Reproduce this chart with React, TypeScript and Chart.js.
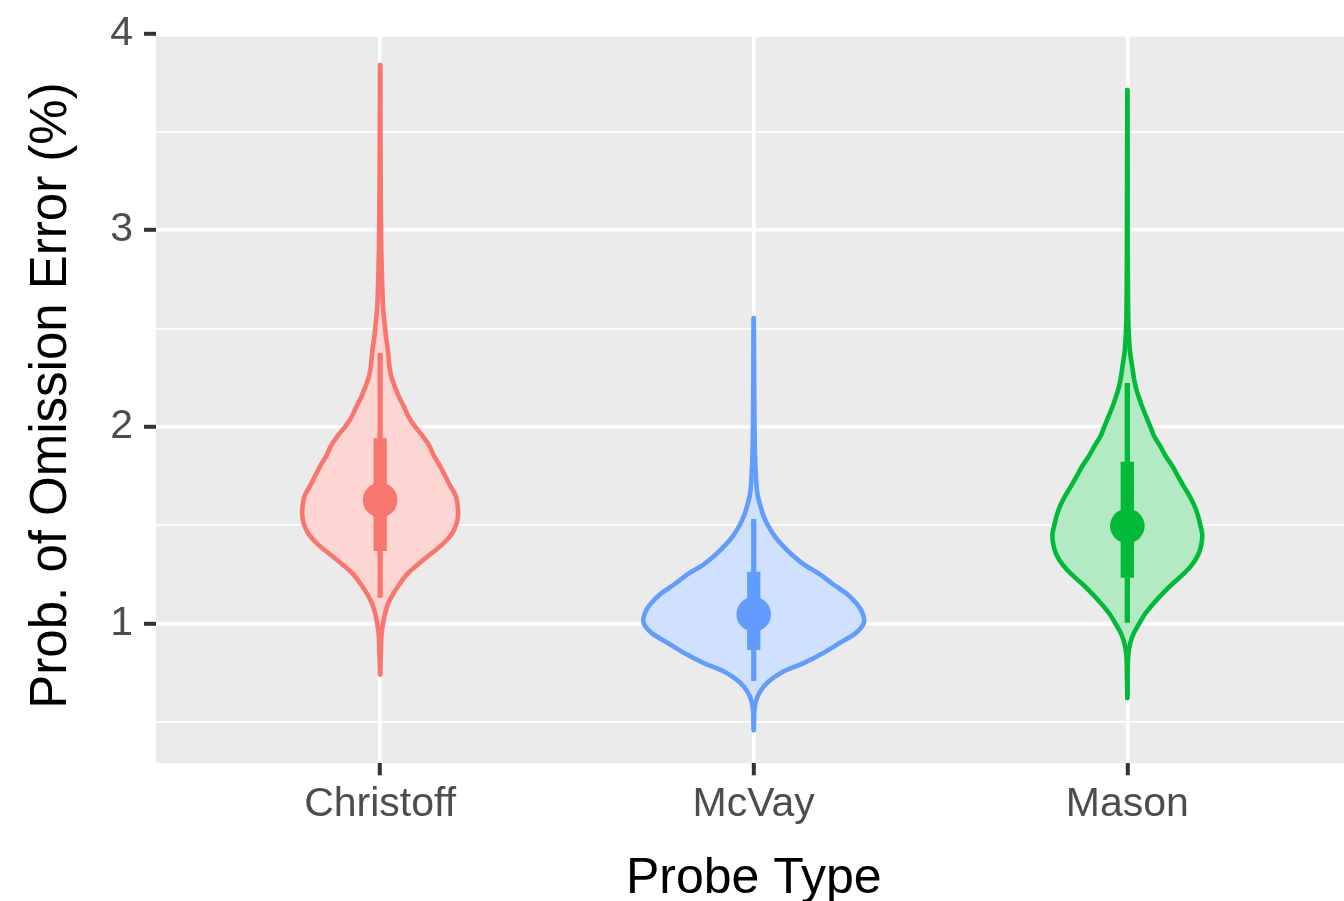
import React, { useEffect, useRef } from "react";
import { Chart, registerables } from "chart.js";

Chart.register(...registerables);

// ---- data -------------------------------------------------------------
const categories = ["Christoff", "McVay", "Mason"];
const lineColors = ["#F8766D", "#619CFF", "#00BA38"];
const fillColors = ["#FDD6D3", "#D0E1FF", "#B3EAC3"];

// violin outlines: y value and half-width (in category units)
const christoffY = [0.74, 0.8, 0.85, 0.9, 0.95, 1.0, 1.05, 1.1, 1.15, 1.2, 1.25, 1.3, 1.35, 1.4, 1.45, 1.5, 1.55, 1.6, 1.65, 1.7, 1.75, 1.8, 1.85, 1.9, 1.95, 2.0, 2.05, 2.1, 2.15, 2.2, 2.25, 2.3, 2.35, 2.4, 2.45, 2.5, 2.6, 2.7, 2.8, 2.9, 3.0, 3.2, 3.4, 3.6, 3.84];
const christoffW = [0, 0.0011, 0.0019, 0.0027, 0.004, 0.008, 0.0134, 0.0214, 0.0348, 0.0522, 0.0722, 0.1017, 0.1338, 0.1659, 0.19, 0.2034, 0.2087, 0.2074, 0.202, 0.1873, 0.174, 0.1606, 0.1445, 0.1325, 0.1151, 0.0937, 0.0763, 0.0642, 0.0508, 0.0401, 0.0308, 0.0254, 0.0227, 0.0201, 0.0161, 0.0134, 0.008, 0.0059, 0.0043, 0.0032, 0.0024, 0.0016, 0.0011, 0.0007, 0];

const mcvayY = [0.457, 0.5, 0.55, 0.6, 0.65, 0.7, 0.75, 0.8, 0.85, 0.9, 0.95, 1.0, 1.05, 1.1, 1.15, 1.2, 1.25, 1.3, 1.35, 1.4, 1.45, 1.5, 1.55, 1.6, 1.65, 1.7, 1.8, 1.9, 2.0, 2.2, 2.4, 2.553];
const mcvayW = [0, 0.0008, 0.0016, 0.0054, 0.0161, 0.0375, 0.0749, 0.1365, 0.1873, 0.2301, 0.2729, 0.2944, 0.2917, 0.2756, 0.2489, 0.2114, 0.1766, 0.1338, 0.1017, 0.0749, 0.0535, 0.0375, 0.0254, 0.0174, 0.0107, 0.0075, 0.0045, 0.0029, 0.0021, 0.0013, 0.0008, 0];

const masonY = [0.62, 0.7, 0.8, 0.85, 0.9, 0.95, 1.0, 1.05, 1.1, 1.15, 1.2, 1.25, 1.3, 1.35, 1.4, 1.45, 1.5, 1.55, 1.6, 1.65, 1.7, 1.75, 1.8, 1.85, 1.9, 1.95, 2.0, 2.05, 2.1, 2.15, 2.2, 2.25, 2.3, 2.35, 2.4, 2.5, 2.6, 2.8, 3.0, 3.3, 3.713];
const masonW = [0, 0.0008, 0.0016, 0.0032, 0.008, 0.0174, 0.0321, 0.0482, 0.0696, 0.0937, 0.1204, 0.1499, 0.1739, 0.19, 0.198, 0.2007, 0.1953, 0.1887, 0.1793, 0.1659, 0.1499, 0.1351, 0.1204, 0.103, 0.0883, 0.0722, 0.0615, 0.0508, 0.0401, 0.0308, 0.0227, 0.0174, 0.0134, 0.0094, 0.0062, 0.0032, 0.0021, 0.0013, 0.0009, 0.0007, 0];

// point + intervals
const medians = [1.627, 1.046, 1.495];
const innerLow = [1.368, 0.864, 1.232];
const innerHigh = [1.941, 1.262, 1.822];
const outerLow = [1.13, 0.706, 1.003];
const outerHigh = [2.375, 1.53, 2.222];

const yTickValues = [0.5, 1, 1.5, 2, 2.5, 3, 3.5, 4];
const Y_MIN = 0.288;
const Y_MAX = 4;
const PANEL_TOP = 3.984;
const PANEL_TOP_FULL = 4.009;
const X_MIN = 0.4;
const X_MAX = 3.58;
const X_FULL_MAX = 3.6;

const xTitle = "Probe Type";
const yTitle = "Prob. of Omission Error (%)";

const FONT = "'Liberation Sans', Arimo, Arial, sans-serif";

export default function App() {
  const ref = useRef<HTMLCanvasElement | null>(null);

  useEffect(() => {
    document.body.style.margin = "0";
    const canvas = ref.current;
    if (!canvas) return;
    Chart.defaults.font.family = FONT;

    const violins = [
      { y: christoffY, w: christoffW },
      { y: mcvayY, w: mcvayW },
      { y: masonY, w: masonW },
    ];

    const datasets: any[] = [];
    violins.forEach((v, i) => {
      const c = i + 1;
      datasets.push({
        type: "line",
        data: v.y.map((y, k) => ({ x: c + v.w[k], y })),
        borderColor: lineColors[i],
        backgroundColor: fillColors[i],
        fill: "+1",
        borderWidth: 4.6,
        borderCapStyle: "round",
        borderJoinStyle: "round",
        pointRadius: 0,
        tension: 0.3,
        order: 3,
      });
      datasets.push({
        type: "line",
        data: v.y.map((y, k) => ({ x: c - v.w[k], y })),
        borderColor: lineColors[i],
        backgroundColor: fillColors[i],
        fill: false,
        borderWidth: 4.6,
        borderCapStyle: "round",
        borderJoinStyle: "round",
        pointRadius: 0,
        tension: 0.3,
        order: 3,
      });
    });
    categories.forEach((_, i) => {
      const c = i + 1;
      datasets.push({
        type: "line",
        data: [
          { x: c, y: outerLow[i] },
          { x: c, y: outerHigh[i] },
        ],
        borderColor: lineColors[i],
        borderWidth: 5.3,
        borderCapStyle: "butt",
        pointRadius: 0,
        fill: false,
        order: 2,
      });
      datasets.push({
        type: "line",
        data: [
          { x: c, y: innerLow[i] },
          { x: c, y: innerHigh[i] },
        ],
        borderColor: lineColors[i],
        borderWidth: 13.3,
        borderCapStyle: "butt",
        pointRadius: 0,
        fill: false,
        order: 1,
      });
      datasets.push({
        type: "line",
        data: [{ x: c, y: medians[i] }],
        showLine: false,
        pointRadius: 17.3,
        pointBackgroundColor: lineColors[i],
        pointBorderColor: lineColors[i],
        pointBorderWidth: 0,
        fill: false,
        order: 0,
      });
    });

    const bgPlugin = {
      id: "panelBg",
      beforeDraw(chart: any) {
        const { ctx, chartArea } = chart;
        const ys = chart.scales.y;
        ctx.save();
        ctx.fillStyle = "#FFFFFF";
        ctx.fillRect(0, 0, chart.width, chart.height);
        const top = ys.getPixelForValue(PANEL_TOP);
        ctx.fillStyle = "#EBEBEB";
        ctx.fillRect(chartArea.left, top, chartArea.right - chartArea.left, chartArea.bottom - top);
        ctx.restore();
      },
    };

    const titlePlugin = {
      id: "axisTitles",
      afterDraw(chart: any) {
        const { ctx, chartArea } = chart;
        const xs = chart.scales.x;
        const ys = chart.scales.y;
        ctx.save();
        ctx.fillStyle = "#000000";
        ctx.textAlign = "center";
        ctx.textBaseline = "alphabetic";
        ctx.font = `50px ${FONT}`;
        const cx = (chartArea.left + xs.getPixelForValue(X_FULL_MAX)) / 2;
        ctx.fillText(xTitle, cx, 893);
        ctx.font = `51px ${FONT}`;
        const cy = (chartArea.bottom + ys.getPixelForValue(PANEL_TOP_FULL)) / 2 - 2;
        ctx.translate(66, cy);
        ctx.rotate(-Math.PI / 2);
        ctx.fillText(yTitle, 0, 0);
        ctx.restore();
      },
    };

    const isInt = (v: number) => Math.abs(v - Math.round(v)) < 1e-9;

    const chart = new Chart(canvas, {
      type: "line",
      data: { datasets },
      options: {
        indexAxis: "y",
        animation: false,
        responsive: false,
        devicePixelRatio: 1,
        events: [],
        layout: { autoPadding: false, padding: { top: 33.5, left: 0, right: 0, bottom: 0 } },
        plugins: {
          legend: { display: false },
          tooltip: { enabled: false },
          filler: { drawTime: "beforeDatasetsDraw" },
        },
        scales: {
          x: {
            type: "linear",
            min: X_MIN,
            max: X_MAX,
            afterBuildTicks: (s: any) => {
              s.ticks = categories.map((_, i) => ({ value: i + 1 }));
            },
            afterFit: (s: any) => {
              s.height = 137.7;
              s.paddingLeft = 0;
              s.paddingRight = 0;
              s.paddingTop = 0;
              s.paddingBottom = 0;
            },
            border: { display: false },
            grid: {
              color: "#FFFFFF",
              lineWidth: 3.6,
              tickColor: "#333333",
              tickLength: 12,
              tickWidth: 4,
            },
            ticks: {
              callback: (v: any) => categories[Math.round(Number(v)) - 1] ?? "",
              color: "#4D4D4D",
              font: { size: 41, family: FONT },
              padding: 5,
              maxRotation: 0,
              autoSkip: false,
            },
          },
          y: {
            type: "linear",
            min: Y_MIN,
            max: Y_MAX,
            afterBuildTicks: (s: any) => {
              s.ticks = yTickValues.map((v) => ({ value: v }));
            },
            afterFit: (s: any) => {
              s.width = 156;
              s.paddingLeft = 0;
              s.paddingRight = 0;
              s.paddingTop = 0;
              s.paddingBottom = 0;
            },
            border: { display: false },
            grid: {
              color: (c: any) =>
                c.tick && c.tick.value === Y_MAX ? "rgba(0,0,0,0)" : "#FFFFFF",
              lineWidth: (c: any) => (c.tick && isInt(c.tick.value) ? 3.6 : 1.8),
              tickColor: (c: any) =>
                c.tick && isInt(c.tick.value) ? "#333333" : "rgba(0,0,0,0)",
              tickLength: 12,
              tickWidth: 4,
            },
            ticks: {
              callback: (v: any) => (isInt(Number(v)) ? String(Math.round(Number(v))) : ""),
              color: "#4D4D4D",
              font: { size: 41, family: FONT },
              padding: 11,
              autoSkip: false,
            },
          },
        },
      } as any,
      plugins: [bgPlugin, titlePlugin],
    });

    return () => {
      chart.destroy();
    };
  }, []);

  return (
    <div style={{ position: "absolute", left: 0, top: 0, width: 1344, height: 901 }}>
      <canvas ref={ref} width={1344} height={901} style={{ display: "block", width: 1344, height: 901 }} />
    </div>
  );
}
